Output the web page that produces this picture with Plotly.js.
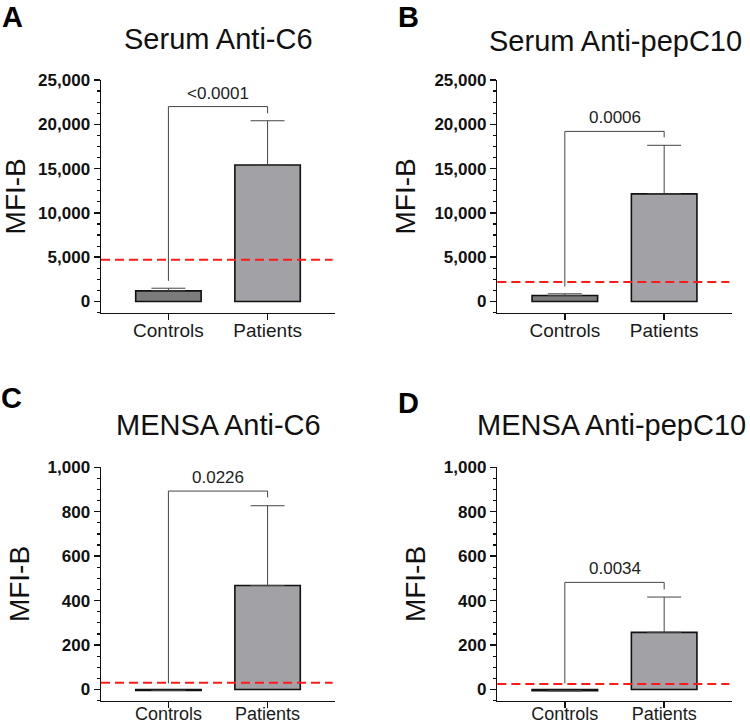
<!DOCTYPE html>
<html>
<head>
<meta charset="utf-8">
<script src="https://cdn.plot.ly/plotly-3.0.1.min.js"></script>
<style>html,body{margin:0;padding:0;background:#fff;}#chart{width:750px;height:725px;}</style>
</head>
<body>
<div id="chart"></div>
<script>
// ---- data ----
const categories = ["Controls", "Patients"];
const panelLetters = ["A", "B", "C", "D"];
const panelTitles = ["Serum Anti-C6", "Serum Anti-pepC10", "MENSA Anti-C6", "MENSA Anti-pepC10"];
const controlsMean = [1200, 680, -4, -6];
const controlsErrTop = [1500, 870, -4, -6];
const patientsMean = [15400, 12150, 468, 257];
const patientsErrTop = [20400, 17630, 827, 416];
const cutoffValues = [4700, 2190, 30, 25];
const bracketTop = [22000, 19200, 893, 482];
const bracketLeftEnd = [2330, 1690, 27, 27];
const bracketRightEnd = [21240, 18530, 865, 450];
const pValues = ["<0.0001", "0.0006", "0.0226", "0.0034"];
const yMax = [25000, 25000, 1000, 1000];
const yMajor = [5000, 5000, 200, 200];
const yMinor = [1250, 1250, 50, 50];
const yAxisTitle = "MFI-B";

// ---- layout geometry (pixels) ----
const W = 750, H = 725;
const px = v => v / W, py = v => 1 - v / H;
const xDom = [[101, 335], [497.3, 731.7], [101, 335], [497.3, 731.7]];
const yDom = [[80, 312.7], [80, 312.7], [467.3, 700.7], [467.3, 700.7]];
const yMinFrac = 11.2 / 221.7;
const FONT = "Liberation Sans, Arial, sans-serif";

const data = [];
const layout = {
  width: W, height: H,
  margin: {l: 0, r: 0, t: 0, b: 0},
  paper_bgcolor: "#fff", plot_bgcolor: "#fff",
  showlegend: false, hovermode: false,
  font: {family: FONT, color: "#111"},
  shapes: [], annotations: []
};

const titlePos = [
  {x: 218, y: 39.5, xanchor: "center"},
  {x: 487, y: 41, xanchor: "left"},
  {x: 218, y: 425, xanchor: "center"},
  {x: 475, y: 425, xanchor: "left"}
];
// letter positions: [x centre, y top of text box]
const letterPos = [[12.5, 0], [408, 0], [11.5, 381], [408, 386]];

for (let i = 0; i < 4; i++) {
  const s = i === 0 ? "" : String(i + 1);
  const xa = "x" + s, ya = "y" + s;
  const bottomRow = i >= 2;
  data.push({
    type: "bar", x: categories, y: [controlsMean[i], patientsMean[i]],
    xaxis: xa, yaxis: ya, width: 0.66,
    marker: {color: ["#7b7b7b", "#a2a2a6"], line: {color: "#111", width: 1.6}},
    error_y: {
      type: "data", symmetric: false,
      array: [controlsErrTop[i] - controlsMean[i], patientsErrTop[i] - patientsMean[i]],
      arrayminus: [0, 0], color: "#444", thickness: 1, width: 17
    }
  });
  data.push({
    type: "scatter", mode: "lines", xaxis: xa, yaxis: ya,
    x: [categories[0], categories[0], categories[1], categories[1]],
    y: [bracketLeftEnd[i], bracketTop[i], bracketTop[i], bracketRightEnd[i]],
    line: {color: "#444", width: 1}
  });
  layout["xaxis" + s] = {
    domain: [px(xDom[i][0]), px(xDom[i][1])], anchor: ya,
    type: "category", range: [-0.68, 1.68],
    showline: true, linecolor: "#111", linewidth: 1.5,
    ticks: "outside", ticklen: 6, tickwidth: 1.5, tickcolor: "#111",
    ticklabelstandoff: bottomRow ? -10 : -6,
    tickfont: {size: bottomRow ? 18 : 19, color: "#1a1a1a", family: FONT},
    showgrid: false, zeroline: false, fixedrange: true
  };
  layout["yaxis" + s] = {
    domain: [py(yDom[i][1]), py(yDom[i][0])], anchor: xa,
    range: [-yMax[i] * yMinFrac, yMax[i]],
    tick0: 0, dtick: yMajor[i], tickformat: ",d",
    showline: true, linecolor: "#111", linewidth: 1.5,
    ticks: "outside", ticklen: 6, tickwidth: 1.5, tickcolor: "#111",
    minor: {dtick: yMinor[i], tick0: 0, ticks: "outside", ticklen: 3, tickwidth: 1.2, tickcolor: "#111"},
    tickfont: {size: 17, color: "#111", family: FONT, weight: "bold"},
    title: {text: yAxisTitle, font: {size: 28, color: "#111", family: FONT}, standoff: 10},
    showgrid: false, zeroline: false, fixedrange: true
  };
  layout.shapes.push({
    type: "line", xref: xa + " domain", yref: ya,
    x0: 0, x1: 0.99, y0: cutoffValues[i], y1: cutoffValues[i],
    line: {color: "#ff1a1a", width: 2, dash: "9px,5px"}, layer: "above"
  });
  layout.annotations.push({
    xref: xa, yref: ya, x: 0.5, y: bracketTop[i], text: pValues[i],
    showarrow: false, yanchor: "bottom", yshift: 2,
    font: {size: 17, color: "#222", family: FONT}
  });
  layout.annotations.push({
    xref: "paper", yref: "paper", x: px(titlePos[i].x), y: py(titlePos[i].y),
    xanchor: titlePos[i].xanchor, yanchor: "middle", text: panelTitles[i], showarrow: false,
    font: {size: 29, color: "#111", family: FONT}
  });
  layout.annotations.push({
    xref: "paper", yref: "paper", x: px(letterPos[i][0]), y: py(letterPos[i][1]),
    xanchor: "center", yanchor: "top", text: "<b>" + panelLetters[i] + "</b>", showarrow: false,
    borderpad: 0,
    font: {size: 29, color: "#000", family: FONT}
  });
}

Plotly.newPlot("chart", data, layout, {displayModeBar: false, staticPlot: true});
</script>
</body>
</html>
